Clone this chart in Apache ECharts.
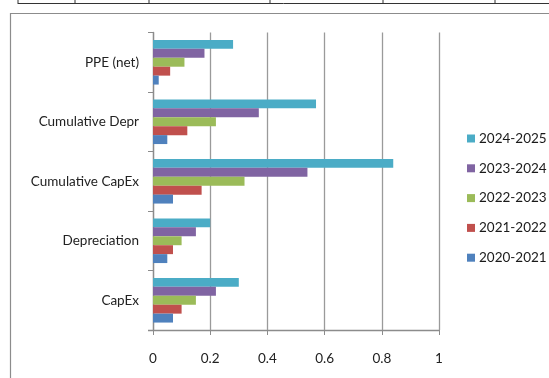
<!DOCTYPE html>
<html>
<head>
<meta charset="utf-8">
<script src="https://cdn.jsdelivr.net/npm/echarts@6/dist/echarts.min.js"></script>
<style>
  html, body { margin: 0; padding: 0; background: #fff; }
  #chart { width: 549px; height: 378px; }
</style>
</head>
<body>
<div id="chart"></div>
<script>
// Category order runs bottom to top on the value-vs-category layout
const categories = ['CapEx', 'Depreciation', 'Cumulative CapEx', 'Cumulative Depr', 'PPE (net)'];
const periods = ['2020-2021', '2021-2022', '2022-2023', '2023-2024', '2024-2025'];
const colors = ['#4F81BD', '#C0504D', '#9BBB59', '#8064A2', '#4BACC6'];

const v2020 = [0.07, 0.05, 0.07, 0.05, 0.02];
const v2021 = [0.10, 0.07, 0.17, 0.12, 0.06];
const v2022 = [0.15, 0.10, 0.32, 0.22, 0.11];
const v2023 = [0.22, 0.15, 0.54, 0.37, 0.18];
const v2024 = [0.30, 0.20, 0.84, 0.57, 0.28];
const seriesValues = [v2020, v2021, v2022, v2023, v2024];

const xTicks = [0, 0.2, 0.4, 0.6, 0.8, 1];

const font = 'Lato, "Open Sans", sans-serif';
const chart = echarts.init(document.getElementById('chart'), null, { renderer: 'canvas' });

// Table rule lines above the chart frame, the frame, and the bottom axis line
const topRules = [18, 75, 149, 270, 383, 495].map(x => ({
  type: 'line',
  shape: { x1: x, y1: 0, x2: x, y2: 4 },
  style: { stroke: '#333', lineWidth: 1 },
  silent: true
}));

// Newest period first so it sits at the top of each group
const order = [4, 3, 2, 1, 0];

chart.setOption({
  animation: false,
  textStyle: { fontFamily: font },
  graphic: [
    {
      type: 'line',
      shape: { x1: 18, y1: 3.5, x2: 549, y2: 3.5 },
      style: { stroke: '#333', lineWidth: 1 },
      silent: true
    },
    ...topRules,
    {
      type: 'polyline',
      shape: { points: [[10.5, 378], [10.5, 13.5], [549, 13.5]] },
      style: { stroke: '#8c8c8c', lineWidth: 1.2, fill: null },
      silent: true
    },
    {
      type: 'line',
      shape: { x1: 148, y1: 330.5, x2: 439, y2: 330.5 },
      style: { stroke: '#8c8c8c', lineWidth: 1.3 },
      silent: true
    }
  ],
  grid: { left: 153, right: 110, top: 32.5, bottom: 48, containLabel: false },
  legend: {
    orient: 'vertical',
    left: 467,
    top: 131.5,
    padding: 0,
    itemWidth: 8,
    itemHeight: 8,
    itemGap: 15.8,
    icon: 'rect',
    data: periods.slice().reverse(),
    textStyle: { fontFamily: font, fontSize: 13.5, color: '#1a1a1a', padding: [0, 0, 0, -1] }
  },
  xAxis: {
    type: 'value',
    min: 0,
    max: 1,
    interval: 0.2,
    axisLine: { show: false },
    axisTick: { show: true, length: 5, lineStyle: { color: '#8c8c8c' } },
    splitLine: { show: true, lineStyle: { color: '#9a9a9a', width: 1.3 } },
    axisLabel: {
      margin: 22,
      fontFamily: font,
      fontSize: 13.5,
      color: '#222',
      formatter: v => {
        const t = xTicks.find(x => Math.abs(x - v) < 1e-9);
        return t === undefined ? '' : String(t);
      }
    }
  },
  yAxis: {
    type: 'category',
    data: categories,
    axisLine: { show: true, lineStyle: { color: '#8c8c8c', width: 1.3 } },
    axisTick: { show: true, length: 5, lineStyle: { color: '#8c8c8c' } },
    axisLabel: { margin: 14, fontFamily: font, fontSize: 13.5, color: '#222' }
  },
  series: order.map(i => ({
    name: periods[i],
    type: 'bar',
    data: seriesValues[i],
    barGap: '0%',
    barCategoryGap: '25%',
    itemStyle: { color: colors[i] }
  }))
});
</script>
</body>
</html>
